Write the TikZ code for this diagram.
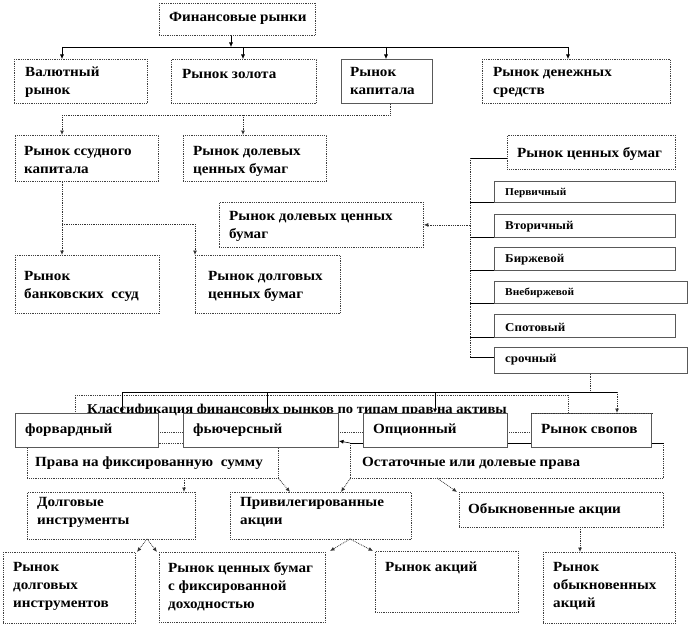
\documentclass[tikz,border=0pt]{standalone}
\usepackage{fontspec}
\setmainfont{Liberation Serif}[FakeStretch=1.08]
\usetikzlibrary{arrows.meta}
\begin{document}
\begin{tikzpicture}[x=1pt,y=-1pt,
  bx/.style={draw=black!75, densely dotted, line width=0.8pt, fill=white, inner sep=0pt, anchor=north west},
  sbx/.style={draw=black!65, line width=0.7pt, fill=white, inner sep=0pt, anchor=north west},
  tx/.style={inner sep=0pt, anchor=north west, align=left, font=\fontsize{14}{18}\selectfont\bfseries},
  stx/.style={inner sep=0pt, anchor=west, font=\fontsize{10.5}{12}\selectfont\bfseries},
  mtx/.style={inner sep=0pt, anchor=west, font=\fontsize{12}{14}\selectfont\bfseries},
  ln/.style={draw=black, line width=0.6pt},
  dln/.style={draw=black!80, densely dotted, line width=0.8pt},
  arr/.style={-{Latex[length=4.5pt,width=4pt]}},
]
\useasboundingbox (0,0) rectangle (690,626);

% ---------- boxes (upper part)
\node[bx, minimum width=156, minimum height=32] (fin) at (159,3) {};
\node[bx, minimum width=133, minimum height=44] (val) at (14,59) {};
\node[bx, minimum width=145, minimum height=44] (gold) at (171,59) {};
\node[sbx, minimum width=91, minimum height=44] (cap) at (341,59) {};
\node[bx, minimum width=188, minimum height=44] (money) at (482,59) {};
\node[bx, minimum width=143, minimum height=46] (loan) at (15,135) {};
\node[bx, minimum width=143, minimum height=46] (eq1) at (183,135) {};
\node[bx, minimum width=144, minimum height=58] (bank) at (15,255) {};
\node[bx, minimum width=145, minimum height=58] (debt) at (195,255) {};
\node[bx, minimum width=204, minimum height=45] (eq2) at (219,202) {};
\node[bx, minimum width=168, minimum height=34] (sec) at (507,135) {};
\node[sbx, minimum width=181, minimum height=21] (prim) at (494,181) {};
\node[sbx, minimum width=181, minimum height=23] (sec2) at (494,214) {};
\node[sbx, minimum width=181, minimum height=23] (exch) at (494,247) {};
\node[sbx, minimum width=193, minimum height=22] (otc) at (494,281) {};
\node[sbx, minimum width=181, minimum height=23] (spot) at (494,314) {};
\node[sbx, minimum width=193, minimum height=26] (term) at (494,347) {};

% ---------- connectors (upper part)
\coordinate (f1) at (231,47);
\coordinate (c1) at (62,47);
\coordinate (c2) at (243,47);
\coordinate (c3) at (386,47);
\coordinate (c4) at (568,47);
\draw[ln,arr] (f1 |- fin.south) -- (f1);
\draw[ln] (c1) -- (c4);
\draw[ln,arr] (c1) -- (c1 |- val.north);
\draw[ln,arr] (c2) -- (c2 |- gold.north);
\draw[ln,arr] (c3) -- (c3 |- cap.north);
\draw[ln,arr] (c4) -- (c4 |- money.north);

\coordinate (k0) at (390,115);
\coordinate (k1) at (62,115);
\coordinate (k2) at (243,115);
\draw[dln] (k0 |- cap.south) -- (k0) -- (k1);
\draw[dln,arr] (k1) -- (k1 |- loan.north);
\draw[dln,arr] (k2) -- (k2 |- eq1.north);

\coordinate (l1) at (62,224);
\coordinate (l2) at (195,224);
\draw[dln,arr] (l1 |- loan.south) -- (l1 |- bank.north);
\draw[dln,arr] (l1) -- (l2) -- (l2 |- debt.north);

\coordinate (v0) at (470,158);
\coordinate (v1) at (470,357);
\draw[ln] (v0) -- (v0 -| sec.west);
\draw[dln] (v0) -- (v1);
\draw[ln] (v0 |- prim.south) -- (prim.south west);
\draw[ln] (v0 |- sec2.south) -- (sec2.south west);
\draw[ln] (v0 |- exch.south) -- (exch.south west);
\draw[ln] (v0 |- otc.south) -- (otc.south west);
\draw[ln] (v0 |- spot.south) -- (spot.south west);
\draw[ln] (v1) -- (v1 -| term.west);
\draw[dln,arr] (eq2.east -| v0) -- (eq2.east);

% ---------- classification box
\node[bx, minimum width=493, minimum height=37] (klass) at (75,395) {};
\node[tx, font=\fontsize{13.5}{18}\selectfont\bfseries] (klass-t) at (87,404) {Классификация финансовых рынков по типам прав на активы};

\coordinate (s0) at (590,392);
\coordinate (d1) at (122,392);
\coordinate (d2) at (267,392);
\coordinate (d3) at (435,392);
\coordinate (d4) at (617,392);
\draw[dln] (s0 |- term.south) -- (s0);
\draw[ln] (d1) -- (d4);

\node[bx, minimum width=251, minimum height=35] (prava) at (27,443) {};
\node[bx, minimum width=313, minimum height=35] (ost) at (350,443) {};
\draw[ln] (ost.north west) -- (ost.north east);

\draw[ln,arr] (d1) -- (122,413);
\draw[ln,arr] (d2) -- (267,413);
\draw[ln,arr] (d3) -- (435,413);
\draw[dln,arr] (d4) -- (617,413);

\node[sbx, minimum width=143, minimum height=34] (fwd) at (15,413) {};
\node[sbx, minimum width=155, minimum height=34] (futr) at (183,413) {};
\node[sbx, minimum width=144, minimum height=34] (opt) at (363,413) {};
\node[sbx, minimum width=120, minimum height=34] (swap) at (531,413) {};
\draw[dln] (swap.north west) -- (swap.north east);

\coordinate (oa) at (339,441);
\draw[ln,arr] (ost.north west) -- (oa);

% ---------- lower boxes
\node[bx, minimum width=168, minimum height=47] (dolg) at (27,492) {};
\node[bx, minimum width=181, minimum height=47] (priv) at (230,492) {};
\node[bx, minimum width=204, minimum height=35] (obyk) at (459,492) {};
\node[bx, minimum width=132, minimum height=71] (rdi) at (3,552) {};
\node[bx, minimum width=166, minimum height=70] (rfix) at (159,552) {};
\node[bx, minimum width=143, minimum height=61] (rak) at (375,551) {};
\node[bx, minimum width=132, minimum height=71] (rob) at (543,552) {};

\coordinate (p1) at (184,478);
\coordinate (p2) at (290,492);
\coordinate (p3) at (341,492);
\coordinate (p4) at (437,478);
\coordinate (p5) at (457,492);
\draw[dln,arr] (p1) -- (p1 |- dolg.north);
\draw[dln,arr] (prava.south east) -- (p2);
\draw[dln,arr] (ost.south west) -- (p3);
\draw[dln,arr] (p4) -- (p5);

\coordinate (q0) at (147,539);
\coordinate (q1) at (137,552);
\coordinate (q2) at (157,552);
\coordinate (r0) at (350,539);
\coordinate (r1) at (330,551);
\coordinate (r2) at (373,551);
\coordinate (o0) at (580,527);
\draw[dln,arr] (q0) -- (q1);
\draw[dln,arr] (q0) -- (q2);
\draw[dln,arr] (r0) -- (r1);
\draw[dln,arr] (r0) -- (r2);
\draw[dln,arr] (o0) -- (o0 |- rob.north);

% ---------- texts
\node[tx] (fin-t) at (169,12) {Финансовые рынки};
\node[tx] (val-t) at (25,67) {Валютный\\рынок};
\node[tx] (gold-t) at (182,69) {Рынок золота};
\node[tx] (cap-t) at (350,67) {Рынок\\капитала};
\node[tx] (money-t) at (493,67) {Рынок денежных\\средств};
\node[tx] (loan-t) at (24,146) {Рынок ссудного\\капитала};
\node[tx] (eq1-t) at (193,146) {Рынок долевых\\ценных бумаг};
\node[tx] (eq2-t) at (229,211) {Рынок долевых ценных\\бумаг};
\node[tx] (bank-t) at (24,271) {Рынок\\банковских\ \ ссуд};
\node[tx] (debt-t) at (208,271) {Рынок долговых\\ценных бумаг};
\node[tx] (sec-t) at (517,147) {Рынок ценных бумаг};
\node[stx] (prim-t) at (505,193) {Первичный};
\node[mtx] (sec2-t) at (505,227) {Вторичный};
\node[mtx] (exch-t) at (505,260) {Биржевой};
\node[stx] (otc-t) at (505,293) {Внебиржевой};
\node[mtx] (spot-t) at (505,327) {Спотовый};
\node[mtx] (term-t) at (505,360) {срочный};
\node[tx] (fwd-t) at (25,424) {форвардный};
\node[tx] (futr-t) at (193,424) {фьючерсный};
\node[tx] (opt-t) at (373,424) {Опционный};
\node[tx] (swap-t) at (541,424) {Рынок свопов};
\node[tx] (prava-t) at (35,457) {Права на фиксированную\ \ сумму};
\node[tx] (ost-t) at (362,457) {Остаточные или долевые права};
\node[tx] (dolg-t) at (37,497) {Долговые\\инструменты};
\node[tx] (priv-t) at (240,497) {Привилегированные\\акции};
\node[tx] (obyk-t) at (468,503) {Обыкновенные акции};
\node[tx] (rdi-t) at (13,562) {Рынок\\долговых\\инструментов};
\node[tx] (rfix-t) at (168,562) {Рынок ценных бумаг\\с фиксированной\\доходностью};
\node[tx] (rak-t) at (385,562) {Рынок акций};
\node[tx] (rob-t) at (553,562) {Рынок\\обыкновенных\\акций};
\end{tikzpicture}
\end{document}
